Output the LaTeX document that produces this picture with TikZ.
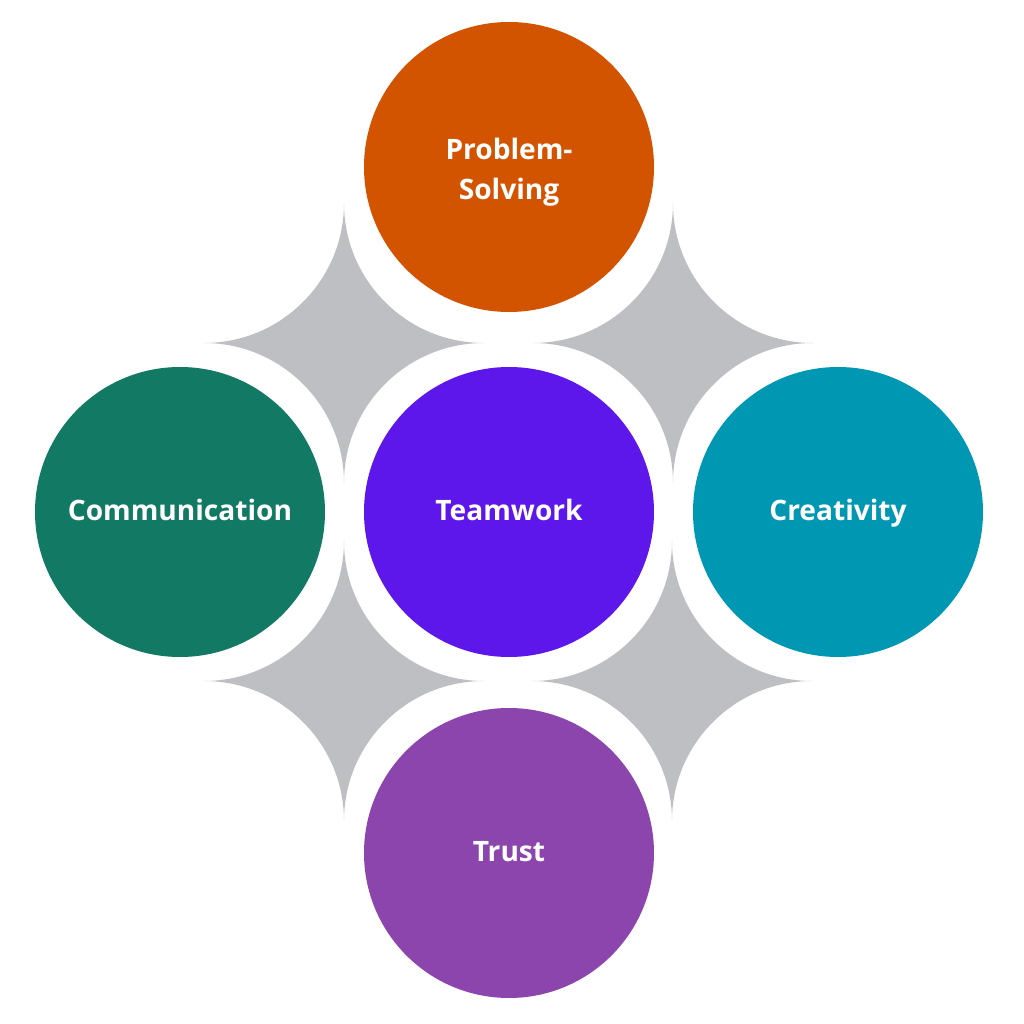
\documentclass[tikz,border=0pt]{standalone}
\usepackage{fontspec}
\setmainfont{Open Sans}
\usepackage{xcolor}
\usepackage{tikz}

\definecolor{probcol}{RGB}{211,84,0}
\definecolor{commcol}{RGB}{18,122,100}
\definecolor{teamcol}{RGB}{94,23,235}
\definecolor{creacol}{RGB}{0,151,178}
\definecolor{trustcol}{RGB}{140,69,173}
\definecolor{sparkcol}{RGB}{190,191,195}

\begin{document}
\begin{tikzpicture}[every node/.style={font=\fontsize{8}{11.4}\selectfont\bfseries},
    skill/.style={circle, minimum size=2.9cm, inner sep=0pt, text=white, align=center},
    oneline/.style={text height=0.72em, text depth=0.24em}]
        \useasboundingbox (0,0) rectangle (10.24,10.24);

        % gray four-pointed sparkles
        \foreach \cx/\cy in {3.44/6.81, 6.73/6.81, 3.44/3.43, 6.72/3.43} {
            \fill[sparkcol] (\cx,\cy+1.4)
                arc[start angle=180, end angle=270, radius=1.4]
                arc[start angle=90, end angle=180, radius=1.4]
                arc[start angle=0, end angle=90, radius=1.4]
                arc[start angle=270, end angle=360, radius=1.4] -- cycle;
        }

        \node[skill, oneline, fill=teamcol] (team) at (5.09,5.12) {Teamwork};
        \node[skill, fill=probcol] (prob) at (5.09,8.57) {};
        \node[text=white, align=center] (probtext) at (5.09,8.52) {Problem-\\Solving};
        \node[skill, oneline, fill=commcol] (comm) at (1.80,5.12) {Communication};
        \node[skill, oneline, fill=creacol] (crea) at (8.38,5.12) {Creativity};
        \node[skill, oneline, fill=trustcol] (trust) at (5.09,1.71) {Trust};
    \end{tikzpicture}
\end{document}
